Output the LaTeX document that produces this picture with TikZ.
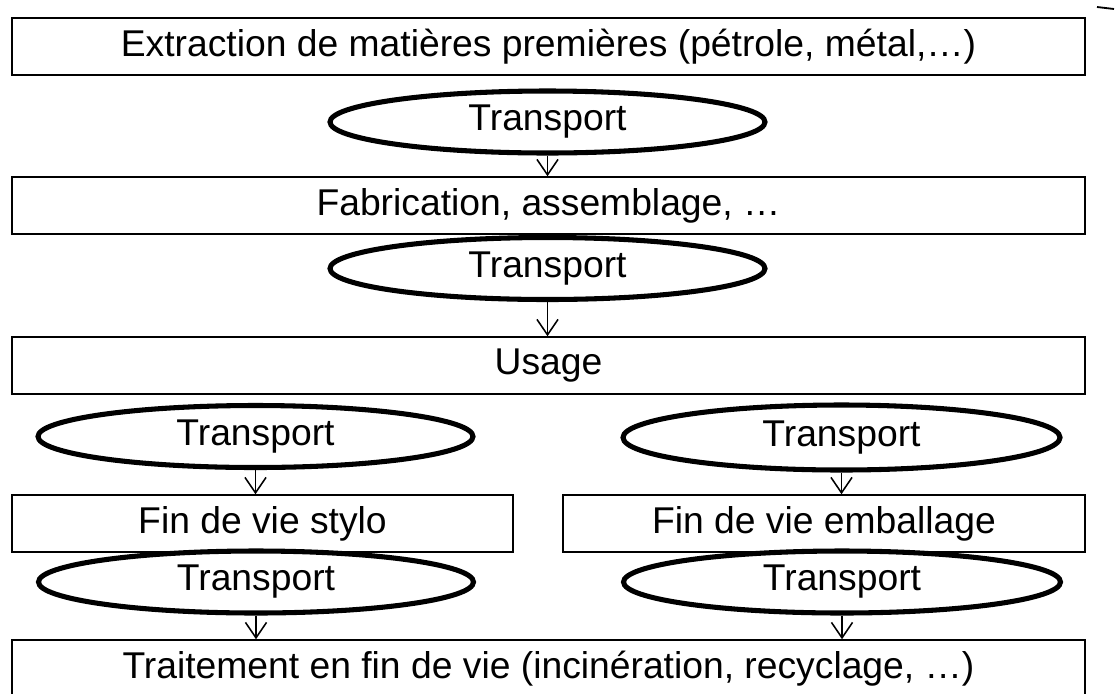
\documentclass[tikz,border=0pt]{standalone}
\usepackage{fontspec}
\setmainfont{Liberation Sans}
\usetikzlibrary{shapes.geometric, arrows.meta}

\begin{document}
\begin{tikzpicture}[x=0.025cm, y=-0.025cm,
    etape/.style={rectangle, draw=black, line width=1.1pt, fill=none,
        minimum height=57*0.025cm, inner sep=0pt, text centered, text=black,
        font=\fontsize{26.5}{31}\selectfont},
    transport/.style={ellipse, draw=black, line width=3.6pt, fill=none,
        minimum width=435*0.025cm, minimum height=62*0.025cm, inner sep=0pt,
        text centered, text=black, font=\fontsize{26.5}{31}\selectfont},
    fleche/.style={draw=black, line width=1pt, -{Straight Barb[length=11pt, width=15pt, line width=1.1pt]}}
]
\useasboundingbox (0,0) rectangle (1119,693);

\node (E01) [etape, minimum width=1073*0.025cm] at (548.5,46.5) {Extraction de matières premières (pétrole, métal,…)};
\node (T01) [transport] at (547.5,122) {Transport};
\node (E02) [etape, minimum width=1073*0.025cm] at (548.5,205.5) {Fabrication, assemblage, …};
\node (T02) [transport] at (547.5,268.5) {Transport};
\node (E03) [etape, minimum width=1073*0.025cm] at (548.5,365.5) {Usage};

\node (T11) [transport] at (255.5,436.5) {Transport};
\node (T12) [transport, minimum width=437*0.025cm, minimum height=65*0.025cm] at (841.5,437.5) {Transport};
\node (E11) [etape, minimum width=501*0.025cm] at (262.5,523.5) {Fin de vie stylo};
\node (E12) [etape, minimum width=522*0.025cm] at (824,523.5) {Fin de vie emballage};
\node (T21) [transport] at (256,582) {Transport};
\node (T22) [transport, minimum width=437*0.025cm] at (842,582) {Transport};

\node (E04) [etape, minimum width=1073*0.025cm] at (548.5,668.5) {Traitement en fin de vie (incinération, recyclage, …)};

\draw [fleche] (T01.south) -- (T01.south |- E02.north);
\draw [fleche] (T02.south) -- (T02.south |- E03.north);
\draw [fleche] (T11.south) -- (T11.south |- E11.north);
\draw [fleche] (T12.south) -- (T12.south |- E12.north);
\draw [fleche] (T21.south) -- (T21.south |- E04.north);
\draw [fleche] (T22.south) -- (T22.south |- E04.north);

% trait isole en haut a droite
\coordinate (M1) at (1097,7);
\coordinate (M2) at (1114,9);
\draw [line width=1.3pt] (M1) -- (M2);
\end{tikzpicture}
\end{document}
